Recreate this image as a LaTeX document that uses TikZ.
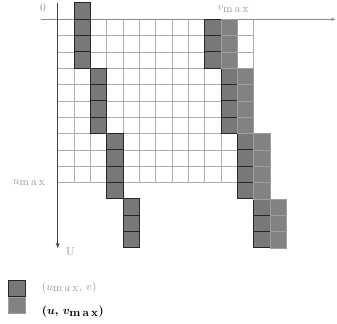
\documentclass[tikz,border=0pt]{standalone}
\usepackage{amsmath,amssymb}
\usepackage{xcolor}
\usepackage{tikz}
\usetikzlibrary{arrows.meta,positioning}
\definecolor{cellhard}{gray}{0.47}
\definecolor{cellsoft}{gray}{0.51}
\definecolor{edgesoft}{gray}{0.62}
\definecolor{gridgray}{gray}{0.68}
\definecolor{labelgray}{gray}{0.6}
\newcommand{\maxof}[1]{#1_{\hbox{m\kern1.8pt a\kern1.8pt x}}}

\begin{document}
\begin{tikzpicture}[
  x=5mm, y=-5mm,
  font=\normalsize,
  gridline/.style={gridgray, line width=0.6pt},
  haxis/.style={-{Stealth[length=1.3mm]}, gridgray!80!black, line width=0.6pt},
  vaxis/.style={-{Stealth[length=1.6mm]}, black!75, line width=0.7pt},
  hardcell/.style={draw=black!85, fill=cellhard, line width=0.9pt},
  softcell/.style={draw=edgesoft, fill=cellsoft, line width=0.7pt},
  lbl/.style={labelgray, inner sep=1pt}
]
\useasboundingbox (-3.533,-1.182) rectangle (17.10,18.60);

% --- grid ---
\draw[gridline, step=5mm] (0,0) grid (12,10);

% --- axes ---
\coordinate (hstart) at (-1,0);
\coordinate (hend) at (17,0);
\coordinate (vstart) at (0,-1);
\coordinate (vend) at (0,14);
\draw[haxis] (hstart) -- (hend);
\draw[vaxis] (vstart) -- (vend);

% --- left staircase ---
\foreach \c/\r in {1/-1,1/0,1/1,1/2, 2/3,2/4,2/5,2/6, 3/7,3/8,3/9,3/10, 4/11,4/12,4/13}
  { \draw[hardcell] (\c,\r) rectangle ++(1,1); }

% --- right staircase: hard cells + soft neighbours ---
\foreach \c/\r in {9/0,9/1,9/2, 10/3,10/4,10/5,10/6, 11/7,11/8,11/9,11/10, 12/11,12/12,12/13}
  { \draw[hardcell] (\c,\r) rectangle ++(1,1); }
\foreach \c/\r in {10/0,10/1,10/2, 11/3,11/4,11/5,11/6, 12/7,12/8,12/9,12/10, 13/11,13/12,13/13}
  { \draw[softcell] (\c,\r) rectangle ++(1,1); }

% --- axis labels ---
\node[lbl] (zero) at (-0.9,-0.69) {0};
\node[lbl] (vmaxl) at (10.76,-0.63) {$\maxof{v}$};
\node[lbl] (umaxl) at (-1.75,10.0) {$\maxof{u}$};
\node[lbl] (ulbl) at (0.78,14.25) {U};

% --- legend ---
\draw[hardcell] (-3,16) rectangle ++(1,1);
\draw[softcell] (-3,17) rectangle ++(1,1);
\node[lbl, anchor=west] (leghard) at (-1.05,16.4) {$(\maxof{u},\,v)$};
\node[inner sep=1pt, anchor=west, font=\normalsize\bfseries\boldmath]
  (legsoft) at (-1.05,17.9) {$(u,\,\maxof{v})$};

\end{tikzpicture}
\end{document}
